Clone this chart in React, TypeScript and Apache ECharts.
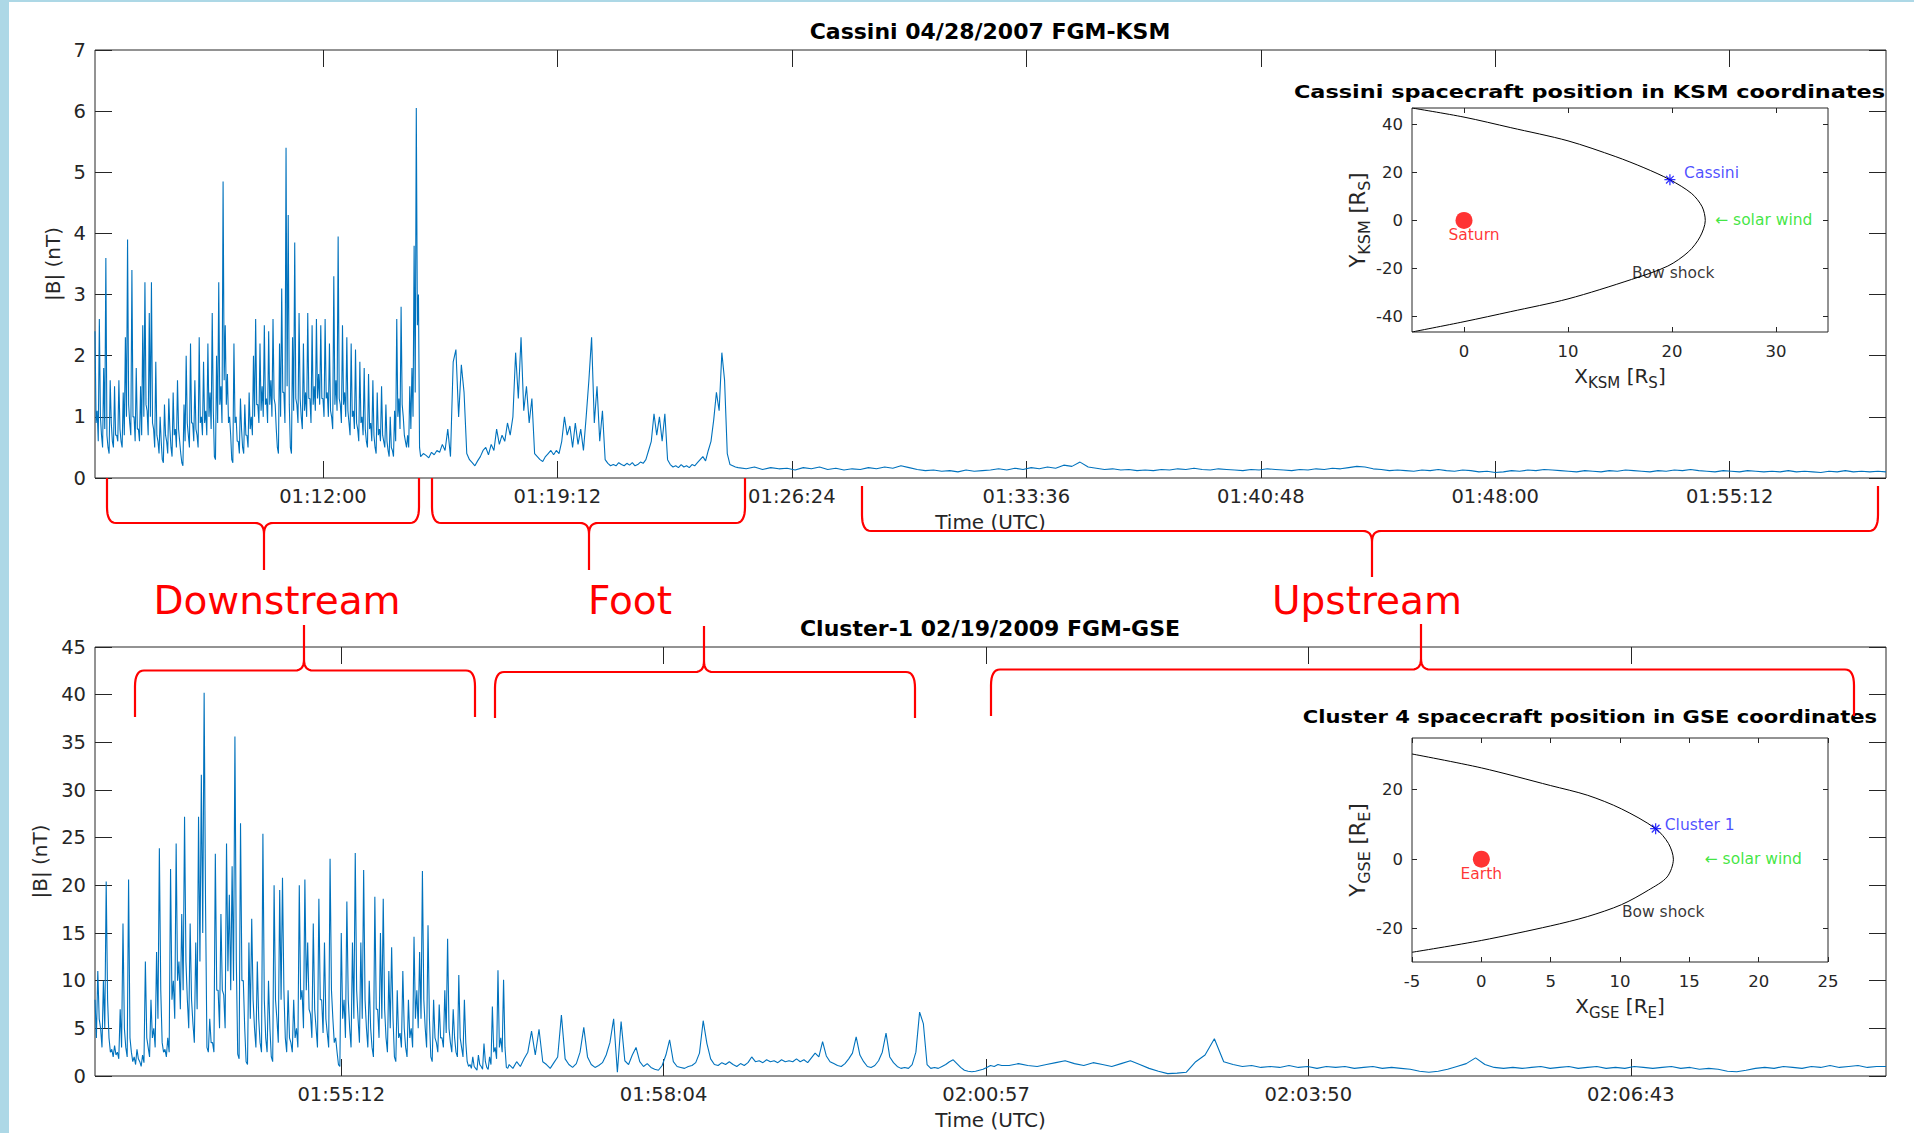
import React, { useEffect, useRef } from "react";
import * as echarts from "echarts";

const FONT = "'DejaVu Sans', 'Noto Sans', sans-serif";
const INK = "#262626";
const LINE_BLUE = "#0072BD";

// ---------- Cassini 04/28/2007 (seconds of day) ----------
const cassiniStart = 3900; // 01:05:00
const cassiniEnd = 7200; // 02:00:00
const cassiniTicks = [4320, 4752, 5184, 5616, 6048, 6480, 6912];
// |B| (nT), downstream peaks: every 4 s from 01:05:00
const cassiniDownstream = [
  2.4, 1.1, 2.6, 0.7, 1.8, 3.6, 0.5, 1.6, 0.6, 1.5,
  0.7, 1.6, 0.6, 1.4, 2.3, 3.9, 0.9, 3.4, 1.0, 1.8,
  0.8, 1.5, 2.5, 3.2, 1.1, 2.7, 3.2, 0.8, 1.9, 0.6,
  1.0, 0.3, 1.2, 0.6, 1.3, 0.5, 1.4, 0.8, 1.6, 0.6,
  0.25, 1.2, 2.0, 0.7, 2.2, 0.9, 1.6, 0.7, 2.3, 1.0,
  1.9, 1.1, 2.2, 1.4, 2.7, 0.35, 2.0, 3.2, 1.5, 4.85,
  2.5, 1.7, 1.0, 0.3, 2.2, 1.0, 0.6, 1.3, 0.5, 1.2,
  0.7, 1.4, 1.0, 2.0, 2.6, 1.2, 2.2, 1.5, 2.5, 1.3,
  2.4, 1.6, 2.6, 1.2, 0.5, 2.2, 3.1, 1.4, 5.4, 4.3,
  0.5, 2.3, 3.85, 1.2, 2.7, 1.0, 2.2, 1.4, 2.7, 1.3,
  2.5, 1.5, 2.6, 1.7, 2.5, 1.3, 2.6, 1.4, 2.2, 1.0,
  3.3, 1.6, 3.95, 1.2, 2.5, 1.4, 2.3, 0.9, 2.2, 1.1,
  2.1, 0.8, 1.9, 1.0, 1.8, 0.6, 1.7, 0.9, 1.6, 0.5,
  1.4, 0.8, 1.5, 0.6, 1.2, 0.45, 1.0, 0.45, 1.1, 2.6,
  1.3, 2.8, 1.0, 0.6, 0.7, 1.5, 1.8, 3.8, 6.05, 3.0,
];
// downstream troughs: every 4 s from 01:05:02
const cassiniDownstreamLow = [
  0.9, 0.6, 1.0, 0.5, 0.8, 0.7, 0.4, 0.9, 0.5, 0.7,
  0.6, 0.8, 0.5, 0.7, 1.0, 1.2, 0.7, 1.0, 0.6, 0.8,
  0.6, 0.7, 1.0, 1.2, 0.7, 1.0, 0.9, 0.5, 0.7, 0.4,
  0.6, 0.25, 0.7, 0.4, 0.8, 0.35, 0.7, 0.5, 0.8, 0.4,
  0.2, 0.6, 0.9, 0.5, 0.9, 0.6, 0.8, 0.5, 0.9, 0.7,
  0.9, 0.7, 1.0, 0.8, 1.1, 0.3, 0.9, 1.2, 0.9, 1.6,
  1.2, 0.9, 0.7, 0.25, 0.9, 0.6, 0.4, 0.8, 0.4, 0.7,
  0.5, 0.8, 0.7, 1.0, 1.2, 0.9, 1.1, 1.0, 1.2, 0.9,
  1.2, 1.0, 1.3, 0.8, 0.4, 1.0, 1.4, 0.9, 1.5, 1.2,
  0.4, 1.1, 1.3, 0.9, 1.3, 0.8, 1.1, 1.0, 1.3, 0.9,
  1.2, 1.1, 1.3, 1.2, 1.3, 1.0, 1.3, 1.0, 1.1, 0.8,
  1.2, 1.1, 1.3, 0.9, 1.2, 1.0, 1.1, 0.7, 1.0, 0.8,
  0.9, 0.6, 0.9, 0.7, 0.8, 0.5, 0.8, 0.6, 0.7, 0.4,
  0.7, 0.6, 0.7, 0.5, 0.6, 0.35, 0.5, 0.35, 0.6, 1.0,
  0.8, 1.2, 0.7, 0.5, 0.5, 0.8, 1.0, 1.4, 2.5, 0.5,
];
// foot: every 5 s from +600 s
const cassiniFoot = [
  0.35, 0.4, 0.37, 0.33, 0.42, 0.38, 0.45, 0.42, 0.55, 0.45,
  0.8, 0.35, 1.9, 2.1, 1.0, 1.85, 1.4, 0.4, 0.3, 0.25,
  0.2, 0.28, 0.35, 0.45, 0.5, 0.38, 0.55, 0.45, 0.8, 0.55,
  0.7, 0.6, 0.9, 0.7, 1.0, 2.05, 1.3, 2.3, 1.1, 1.5,
  0.9, 1.3, 0.4, 0.35, 0.3, 0.27, 0.35, 0.4, 0.45, 0.38,
  0.45, 0.4, 0.6, 1.0, 0.7, 0.85, 0.5, 0.9, 0.55, 0.8,
  0.45, 1.0, 1.6, 2.3, 0.9, 1.5, 0.6, 1.1, 0.3, 0.24,
  0.2, 0.22, 0.2, 0.25, 0.22, 0.2, 0.24, 0.21, 0.25, 0.2,
  0.22, 0.26, 0.24, 0.3, 0.45, 0.6, 1.05, 0.7, 1.0, 0.6,
  1.05, 0.3, 0.22, 0.18, 0.2, 0.17, 0.22, 0.18, 0.2, 0.17,
  0.22, 0.2, 0.25, 0.3, 0.35, 0.28, 0.45, 0.6, 0.95, 1.4,
  1.1, 2.05, 1.6, 0.4, 0.22, 0.2, 0.18,
];
// upstream: every 15 s from +1185 s
const cassiniUpstream = [
  0.17, 0.15, 0.18, 0.14, 0.17, 0.15, 0.16, 0.13, 0.17, 0.15, 0.18, 0.14, 0.16, 0.13, 0.15, 0.14, 0.17, 0.15, 0.18, 0.16, 0.2, 0.17,
  0.14, 0.12, 0.13, 0.11, 0.12, 0.1, 0.13, 0.11, 0.12, 0.13, 0.15, 0.13, 0.16, 0.14, 0.17, 0.15, 0.18, 0.16, 0.21, 0.19,
  0.26, 0.18, 0.16, 0.14, 0.15, 0.13, 0.14, 0.12, 0.13, 0.12, 0.14, 0.13, 0.15, 0.14, 0.16, 0.14, 0.13, 0.15, 0.14, 0.13,
  0.12, 0.14, 0.13, 0.15, 0.14, 0.13, 0.12, 0.14, 0.13, 0.15, 0.14, 0.16, 0.15, 0.17, 0.19, 0.18, 0.15, 0.14, 0.12, 0.13,
  0.12, 0.11, 0.13, 0.12, 0.14, 0.12, 0.11, 0.13, 0.12, 0.1, 0.11, 0.09, 0.1, 0.12, 0.11, 0.13, 0.12, 0.14, 0.13, 0.12,
  0.11, 0.1, 0.12, 0.11, 0.1, 0.12, 0.11, 0.13, 0.12, 0.11, 0.1, 0.12, 0.11, 0.13, 0.12, 0.14, 0.12, 0.11, 0.1, 0.12,
  0.11, 0.1, 0.12, 0.11, 0.1, 0.11, 0.1, 0.12, 0.1, 0.11, 0.1, 0.09, 0.11, 0.1, 0.12, 0.1, 0.11, 0.1, 0.11, 0.1,
];

// ---------- Cluster-1 02/19/2009 ----------
const clusterStart = 6780; // 01:53:00
const clusterEnd = 7740; // 02:09:00
const clusterTicks = [6912, 7084.8, 7257.6, 7430.4, 7603.2];
// downstream peaks: every 1.5 s from 01:53:00
const clusterDownstream = [
  8, 11, 5, 10, 20.4, 4, 2.8, 3.2, 2.5, 7,
  16, 3, 20.6, 2.5, 2.0, 2.8, 1.5, 2.2, 12, 3,
  8, 5, 13, 23.9, 3.5, 2.8, 4, 21.7, 10, 24.4,
  12, 17, 27.2, 8, 16, 5.5, 14, 27.2, 31.6, 40.2,
  3.0, 6, 3.5, 23.3, 9, 17, 8.5, 24.4, 19, 22,
  35.6, 2.3, 26.5, 10, 1.5, 14, 16.5, 5, 12, 3.5,
  25.4, 4, 10, 2, 20, 6, 19.5, 20.8, 4, 9,
  3.5, 8, 5, 20, 9, 20.6, 14, 6.5, 16, 5,
  18.6, 8, 14, 4.5, 22.8, 6, 4, 1.2, 15, 8,
  18.3, 5, 14, 23.4, 6, 14, 21.6, 5, 10, 3,
  18.8, 7, 15, 18.6, 4, 11, 13.5, 2, 9, 4.5,
  11, 3, 8, 5, 14.6, 9, 13, 21.5, 5, 15.8,
  2, 8, 3.5, 7.5, 4, 9, 14.4, 3.5, 7, 2.5,
  10.6, 3, 8, 1.5, 1.2, 2.0, 0.8, 2.2, 1.0, 3.4,
  0.9, 2.0, 7.3, 3.0, 11.1, 4.0, 10.1, 0.9,
];
// downstream troughs: every 1.5 s from 01:53:00.75
const clusterDownstreamLow = [
  4, 6, 3, 5, 8, 2.5, 2.0, 2.2, 1.8, 3,
  5, 2, 4, 1.5, 1.2, 1.8, 1.0, 1.4, 4, 2,
  4, 3, 6, 9, 2.5, 2.0, 2.5, 8, 6, 10,
  7, 9, 12, 5, 8, 3.5, 7, 12, 15, 18,
  2.5, 3.5, 2.5, 9, 5, 9, 5, 11, 9, 10,
  12, 1.8, 10, 5, 1.2, 6, 8, 3, 6, 2.5,
  8, 2.5, 5, 1.5, 8, 3.5, 8, 9, 2.5, 4,
  2.5, 4, 3, 8, 5, 9, 7, 4, 7, 3,
  8, 4.5, 6, 3, 9, 3.5, 2.5, 1.0, 6, 4,
  8, 3, 6, 9, 3.5, 6, 8, 3, 5, 2,
  7, 4, 6, 7, 2.5, 5, 6, 1.5, 4, 3,
  5, 2, 4, 3, 6, 5, 6, 8, 3, 6,
  1.5, 4, 2.5, 4, 3, 4.5, 5, 2.5, 4, 2,
  4, 2, 3.5, 1.0, 0.8, 1.0, 0.6, 1.2, 0.7, 1.5,
  0.7, 1.2, 2.5, 1.8, 3, 2.5, 3, 0.8,
];
// foot: every 2 s from +222 s
const clusterFoot = [
  1.2, 0.8, 1.5, 1.0, 1.8, 2.5, 4.7, 2.2, 4.9, 1.5,
  1.2, 0.8, 1.4, 2.0, 6.4, 1.8, 1.2, 0.9, 1.3, 2.5,
  5.1, 2.0, 1.2, 0.9, 1.1, 1.4, 2.2, 3.5, 6.0, 0.4,
  5.7, 1.6, 1.2, 2.2, 3.0, 1.5, 1.0, 1.3, 0.9, 0.7,
  0.6, 1.1, 2.2, 3.8, 1.5, 1.0, 0.9, 0.8, 1.0, 1.1,
  1.4, 2.4, 5.8, 3.4, 1.8, 1.2, 1.1, 1.4, 1.2, 1.5,
  1.2, 1.0, 1.3, 1.1, 1.4, 2.0, 1.5, 1.6, 1.4, 1.7,
  1.5, 1.6, 1.4, 1.7, 1.5, 1.6, 1.5, 1.8, 1.5, 1.7,
  1.4, 1.9, 2.4, 2.0, 3.6, 2.1, 1.5, 1.3, 1.1, 1.0,
  1.3, 1.8, 2.4, 4.1, 2.2, 1.5, 1.0, 0.9, 1.1, 1.6,
  2.5, 4.5, 2.0, 1.4, 1.0, 0.8, 0.9, 0.8, 1.2, 2.5,
  6.7, 5.5, 1.2, 0.8, 0.9, 0.8, 1.0, 1.2, 1.5, 1.7,
  1.3, 0.9, 0.6, 0.5, 0.45, 0.5, 0.6, 0.7, 0.9, 1.1, 1.0, 1.2, 1.1,
];
// upstream: every 5 s from +490 s
const clusterUpstream = [
  1.1, 1.3, 1.1, 1.0, 1.2, 1.4, 1.6, 1.3, 1.1, 1.4,
  1.2, 1.0, 1.3, 1.6, 1.2, 0.8, 0.5, 0.25, 0.3, 0.4,
  1.5, 2.2, 3.9, 1.5, 1.2, 1.0, 1.1, 0.9, 1.0, 0.9,
  1.1, 0.9, 1.0, 0.8, 1.0, 0.9, 1.0, 0.8, 0.9, 1.0,
  0.8, 0.9, 0.8, 0.7, 0.5, 0.4, 0.5, 0.7, 1.0, 1.3,
  1.9, 1.2, 0.9, 0.8, 0.9, 0.8, 0.9, 1.0, 0.8, 0.9,
  1.0, 0.8, 0.9, 1.0, 0.8, 0.9, 0.8, 1.0, 0.9, 0.8,
  0.9, 1.0, 0.8, 0.9, 0.7, 0.8, 0.7, 0.5, 0.45, 0.6,
  0.8, 0.9, 0.8, 1.0, 0.9, 0.8, 1.0, 0.9, 1.1, 0.9,
  1.0, 1.1, 0.9, 1.0, 1.0,
];

// ---------- insets ----------
const bowShockKSM = [
  [-5, 46.9], [0, 43.1], [4.5, 38.7], [10, 33.2], [14.6, 26.6], [17.3, 22.0], [19.8, 17.0],
  [21.9, 11.2], [22.9, 5.7], [23.2, 0], [22.7, -6.8], [21.6, -13.0], [19.6, -19.0],
  [16.1, -24.6], [10, -32.7], [4.5, -38.0], [0, -42.2], [-5, -46.5],
];
const saturnPos = [0, 0];
const cassiniPos = [19.8, 17.0];
const solarWindKSM = [24.1, 0];
const bowLabelKSM = [16.1, -22.0];
const ksmXTicks = [0, 10, 20, 30];
const ksmYTicks = [-40, -20, 0, 20, 40];

const bowShockGSE = [
  [-5, 30.3], [0, 26.3], [5, 21.2], [7.67, 18.4], [10.1, 14.5], [12.57, 8.8], [13.5, 4.5],
  [13.85, 0], [13.4, -5.1], [12.05, -8.9], [10.1, -13.1], [7.67, -16.5], [5, -19.2],
  [0, -23.4], [-5, -26.8],
];
const earthPos = [0, 0];
const cluster1Pos = [12.57, 8.8];
const solarWindGSE = [16.07, 0];
const bowLabelGSE = [10.1, -15.1];
const gseXTicks = [-5, 0, 5, 10, 15, 20, 25];
const gseYTicks = [-20, 0, 20];

// ---------- layout (pixels) ----------
const G_TOP = { left: 95, top: 50, width: 1791, height: 428 };
const G_BOT = { left: 95, top: 647, width: 1791, height: 429 };
const G_IN1 = { left: 1412, top: 108, width: 416, height: 224 };
const G_IN2 = { left: 1412, top: 738, width: 416, height: 224 };

// braces: x1, x2, tip x, arm end y, middle y, tip y
const braces = [
  [107, 419, 264, 478, 523, 570],
  [432, 745, 589, 478, 523, 570],
  [862, 1878, 1372, 486, 531, 577],
  [135, 475, 304, 717, 670.5, 625],
  [495, 915, 704, 718, 672, 626],
  [991, 1854, 1421, 716, 669.5, 624],
];

type Seg = { vals: number[]; t0: number; step: number };
function build(base: number, segs: Seg[]) {
  const out: number[][] = [];
  segs.forEach(({ vals, t0, step }) => {
    vals.forEach((v, i) => out.push([base + t0 + i * step, v]));
  });
  out.sort((a, b) => a[0] - b[0]);
  return out;
}

const cassiniData = build(cassiniStart, [
  { vals: cassiniDownstream, t0: 0, step: 4 },
  { vals: cassiniDownstreamLow, t0: 2, step: 4 },
  { vals: cassiniFoot, t0: 600, step: 5 },
  { vals: cassiniUpstream, t0: 1185, step: 15 },
]);
const clusterData = build(clusterStart, [
  { vals: clusterDownstream, t0: 0, step: 1.5 },
  { vals: clusterDownstreamLow, t0: 0.75, step: 1.5 },
  { vals: clusterFoot, t0: 222, step: 2 },
  { vals: clusterUpstream, t0: 490, step: 5 },
]);

function pad(n: number) {
  return (n < 10 ? "0" : "") + n;
}
function timeLabel(v: number) {
  const s = Math.floor(v + 1e-6);
  return pad(Math.floor(s / 3600)) + ":" + pad(Math.floor((s % 3600) / 60)) + ":" + pad(s % 60);
}

function quad(p0: number[], c: number[], p2: number[], pts: number[][]) {
  for (let i = 1; i <= 8; i++) {
    const t = i / 8;
    const a = (1 - t) * (1 - t), b = 2 * (1 - t) * t, d = t * t;
    pts.push([a * p0[0] + b * c[0] + d * p2[0], a * p0[1] + b * c[1] + d * p2[1]]);
  }
}
function bracePoints(b: number[]) {
  const [x1, x2, tip, yEnd, yMid, yTip] = b;
  const dir = yMid > yEnd ? 1 : -1;
  const rx = 9, ry = 16, tx = 9, ty = 11;
  const pts: number[][] = [[x1, yEnd], [x1, yMid - dir * ry]];
  quad([x1, yMid - dir * ry], [x1, yMid], [x1 + rx, yMid], pts);
  pts.push([tip - tx, yMid]);
  quad([tip - tx, yMid], [tip, yMid], [tip, yMid + dir * ty], pts);
  pts.push([tip, yTip], [tip, yMid + dir * ty]);
  quad([tip, yMid + dir * ty], [tip, yMid], [tip + tx, yMid], pts);
  pts.push([x2 - rx, yMid]);
  quad([x2 - rx, yMid], [x2, yMid], [x2, yMid - dir * ry], pts);
  pts.push([x2, yEnd]);
  return pts;
}

const noLine = { show: false, onZero: false };

function mainXAxes(gridIndex: number, min: number, max: number, ticks: number[], nameGap: number) {
  return [
    {
      type: "value", gridIndex, min, max, position: "bottom",
      axisLine: noLine, splitLine: { show: false },
      axisTick: { show: true, inside: true, length: 17, customValues: ticks, lineStyle: { color: INK, width: 1 } },
      axisLabel: { show: true, customValues: ticks, formatter: timeLabel, margin: 8, color: INK, fontSize: 19.5, fontFamily: FONT },
      name: "Time (UTC)", nameLocation: "middle", nameGap,
      nameTextStyle: { color: INK, fontSize: 20, fontFamily: FONT },
    },
    {
      type: "value", gridIndex, min, max, position: "top",
      axisLine: noLine, splitLine: { show: false },
      axisTick: { show: true, inside: true, length: 17, customValues: ticks, lineStyle: { color: INK, width: 1 } },
      axisLabel: { show: false },
    },
  ];
}
function mainYAxes(gridIndex: number, max: number, interval: number, nameGap: number) {
  return [
    {
      type: "value", gridIndex, min: 0, max, interval, position: "left",
      axisLine: noLine, splitLine: { show: false },
      axisTick: { show: true, inside: true, length: 17, lineStyle: { color: INK, width: 1 } },
      axisLabel: { margin: 9, color: INK, fontSize: 19.5, fontFamily: FONT },
      name: "|B| (nT)", nameLocation: "middle", nameGap,
      nameTextStyle: { color: INK, fontSize: 20, fontFamily: FONT },
    },
    {
      type: "value", gridIndex, min: 0, max, interval, position: "right",
      axisLine: noLine, splitLine: { show: false },
      axisTick: { show: true, inside: true, length: 17, lineStyle: { color: INK, width: 1 } },
      axisLabel: { show: false },
    },
  ];
}
const subRich = {
  m: { fontSize: 20, color: INK, fontFamily: FONT },
  s: { fontSize: 15, color: INK, fontFamily: FONT, padding: [13, 0, 0, 0] },
};
function insetXAxes(gridIndex: number, min: number, max: number, ticks: number[], name: string) {
  return [
    {
      type: "value", gridIndex, min, max, position: "bottom",
      axisLine: noLine, splitLine: { show: false },
      axisTick: { show: true, inside: true, length: 5, customValues: ticks, lineStyle: { color: INK } },
      axisLabel: { customValues: ticks, margin: 11, color: INK, fontSize: 16.5, fontFamily: FONT },
      name, nameLocation: "middle", nameGap: 30, nameTextStyle: { rich: subRich },
    },
    {
      type: "value", gridIndex, min, max, position: "top",
      axisLine: noLine, splitLine: { show: false },
      axisTick: { show: true, inside: true, length: 5, customValues: ticks, lineStyle: { color: INK } },
      axisLabel: { show: false },
    },
  ];
}
function insetYAxes(gridIndex: number, min: number, max: number, ticks: number[], name: string) {
  return [
    {
      type: "value", gridIndex, min, max, position: "left",
      axisLine: noLine, splitLine: { show: false },
      axisTick: { show: true, inside: true, length: 5, customValues: ticks, lineStyle: { color: INK } },
      axisLabel: { customValues: ticks, margin: 9, color: INK, fontSize: 16.5, fontFamily: FONT },
      name, nameLocation: "middle", nameGap: 36,
      nameTextStyle: { rich: { m: { ...subRich.m, fontSize: 21 }, s: { ...subRich.s, fontSize: 16 } } },
    },
    {
      type: "value", gridIndex, min, max, position: "right",
      axisLine: noLine, splitLine: { show: false },
      axisTick: { show: true, inside: true, length: 5, customValues: ticks, lineStyle: { color: INK } },
      axisLabel: { show: false },
    },
  ];
}

const STAR = "path://M5,0L5,10M0,5L10,5M1.5,1.5L8.5,8.5M1.5,8.5L8.5,1.5";
const annoFont = { fontSize: 15.5, fontFamily: FONT };

function insetSeries(axis: number, curve: number[][], body: number[], bodyName: string, bodyDx: number, craft: number[], craftName: string, sw: number[], bow: number[], craftOffset: number[]) {
  return [
    {
      type: "line", xAxisIndex: axis, yAxisIndex: axis, data: curve, showSymbol: false, symbol: "none",
      smooth: 0.3, lineStyle: { color: "#000", width: 1 }, silent: true, z: 3,
    },
    {
      type: "scatter", xAxisIndex: axis, yAxisIndex: axis, data: [body], symbol: "circle", symbolSize: 17,
      itemStyle: { color: "#ff0000" }, silent: true, z: 4,
      label: { show: true, formatter: bodyName, position: "bottom", distance: 0, offset: [bodyDx, -2], color: "#ff0000", ...annoFont },
    },
    {
      type: "scatter", xAxisIndex: axis, yAxisIndex: axis, data: [craft], symbol: STAR, symbolSize: 11,
      itemStyle: { color: "rgba(0,0,0,0)", borderColor: "#0000ff", borderWidth: 1.3 }, silent: true, z: 5,
      label: { show: true, formatter: craftName, position: "right", distance: craftOffset[0], offset: [0, craftOffset[1]], color: "#1f1fff", ...annoFont },
    },
    {
      type: "scatter", xAxisIndex: axis, yAxisIndex: axis, data: [sw], symbolSize: 1,
      itemStyle: { color: "rgba(0,0,0,0)" }, silent: true,
      label: { show: true, formatter: "\u2190 solar wind", position: "right", distance: 0, color: "#10e010", ...annoFont },
    },
    {
      type: "scatter", xAxisIndex: axis, yAxisIndex: axis, data: [bow], symbolSize: 1,
      itemStyle: { color: "rgba(0,0,0,0)" }, silent: true,
      label: { show: true, formatter: "Bow shock", position: "right", distance: 0, color: "#000", ...annoFont },
    },
  ];
}

function buildOption() {
  const gridBase = { show: true, backgroundColor: "#fff", borderColor: INK, borderWidth: 1, containLabel: false };
  const graphics: any[] = [
    { type: "rect", shape: { x: 0, y: 0, width: 9, height: 1133 }, style: { fill: "#add8e6" }, silent: true },
    { type: "rect", shape: { x: 0, y: 0, width: 1914, height: 2 }, style: { fill: "#add8e6" }, silent: true },
    { type: "text", x: 990, y: 31, style: { text: "Cassini 04/28/2007 FGM-KSM", fontSize: 22, fontWeight: "bold", fontFamily: FONT, fill: "#000", align: "center", verticalAlign: "middle" } },
    { type: "text", x: 990, y: 628, style: { text: "Cluster-1 02/19/2009 FGM-GSE", fontSize: 22, fontWeight: "bold", fontFamily: FONT, fill: "#000", align: "center", verticalAlign: "middle" } },
    { type: "text", x: 1589.5, y: 92, scaleX: 1.21, style: { text: "Cassini spacecraft position in KSM coordinates", fontSize: 18.5, fontWeight: "bold", fontFamily: FONT, fill: "#000", align: "center", verticalAlign: "middle" } },
    { type: "text", x: 1590, y: 717, scaleX: 1.14, style: { text: "Cluster 4 spacecraft position in GSE coordinates", fontSize: 18.5, fontWeight: "bold", fontFamily: FONT, fill: "#000", align: "center", verticalAlign: "middle" } },
    { type: "text", x: 277, y: 600, style: { text: "Downstream", fontSize: 39, fontFamily: FONT, fill: "#ff0000", align: "center", verticalAlign: "middle" } },
    { type: "text", x: 630, y: 600, style: { text: "Foot", fontSize: 39, fontFamily: FONT, fill: "#ff0000", align: "center", verticalAlign: "middle" } },
    { type: "text", x: 1367, y: 600, style: { text: "Upstream", fontSize: 39, fontFamily: FONT, fill: "#ff0000", align: "center", verticalAlign: "middle" } },
  ];
  braces.forEach((b) => {
    graphics.push({ type: "polyline", shape: { points: bracePoints(b) }, style: { stroke: "#ff0000", lineWidth: 2.2, fill: null }, silent: true, z: 10 });
  });

  return {
    animation: false,
    backgroundColor: "#ffffff",
    textStyle: { fontFamily: FONT },
    grid: [
      { ...gridBase, ...G_TOP },
      { ...gridBase, ...G_BOT },
      { ...gridBase, ...G_IN1 },
      { ...gridBase, ...G_IN2 },
    ],
    xAxis: [
      ...mainXAxes(0, cassiniStart, cassiniEnd, cassiniTicks, 34),
      ...mainXAxes(1, clusterStart, clusterEnd, clusterTicks, 34),
      ...insetXAxes(2, -5, 35, ksmXTicks, "{m|X}{s|KSM}{m| [R}{s|S}{m|]}"),
      ...insetXAxes(3, -5, 25, gseXTicks, "{m|X}{s|GSE}{m| [R}{s|E}{m|]}"),
    ],
    yAxis: [
      ...mainYAxes(0, 7, 1, 28),
      ...mainYAxes(1, 45, 5, 35),
      ...insetYAxes(2, -46.5, 46.9, ksmYTicks, "{m|Y}{s|KSM}{m| [R}{s|S}{m|]}"),
      ...insetYAxes(3, -29.6, 34.9, gseYTicks, "{m|Y}{s|GSE}{m| [R}{s|E}{m|]}"),
    ],
    series: [
      {
        type: "line", xAxisIndex: 0, yAxisIndex: 0, data: cassiniData, showSymbol: false, symbol: "none",
        lineStyle: { color: LINE_BLUE, width: 1.1 }, silent: true,
      },
      {
        type: "line", xAxisIndex: 2, yAxisIndex: 2, data: clusterData, showSymbol: false, symbol: "none",
        lineStyle: { color: LINE_BLUE, width: 1.1 }, silent: true,
      },
      ...insetSeries(4, bowShockKSM, saturnPos, "Saturn", 10, cassiniPos, "Cassini", solarWindKSM, bowLabelKSM, [8, -7]),
      ...insetSeries(6, bowShockGSE, earthPos, "Earth", 0, cluster1Pos, "Cluster 1", solarWindGSE, bowLabelGSE, [3, -4]),
    ],
    graphic: graphics,
  };
}

export default function App() {
  const ref = useRef<HTMLDivElement>(null);
  useEffect(() => {
    if (!ref.current) return;
    const chart = echarts.init(ref.current, null, { renderer: "svg", width: 1914, height: 1133 });
    chart.setOption(buildOption() as any);
    return () => chart.dispose();
  }, []);
  return (
    <div
      ref={ref}
      style={{ position: "fixed", left: 0, top: 0, width: 1914, height: 1133, background: "#fff" }}
    />
  );
}
